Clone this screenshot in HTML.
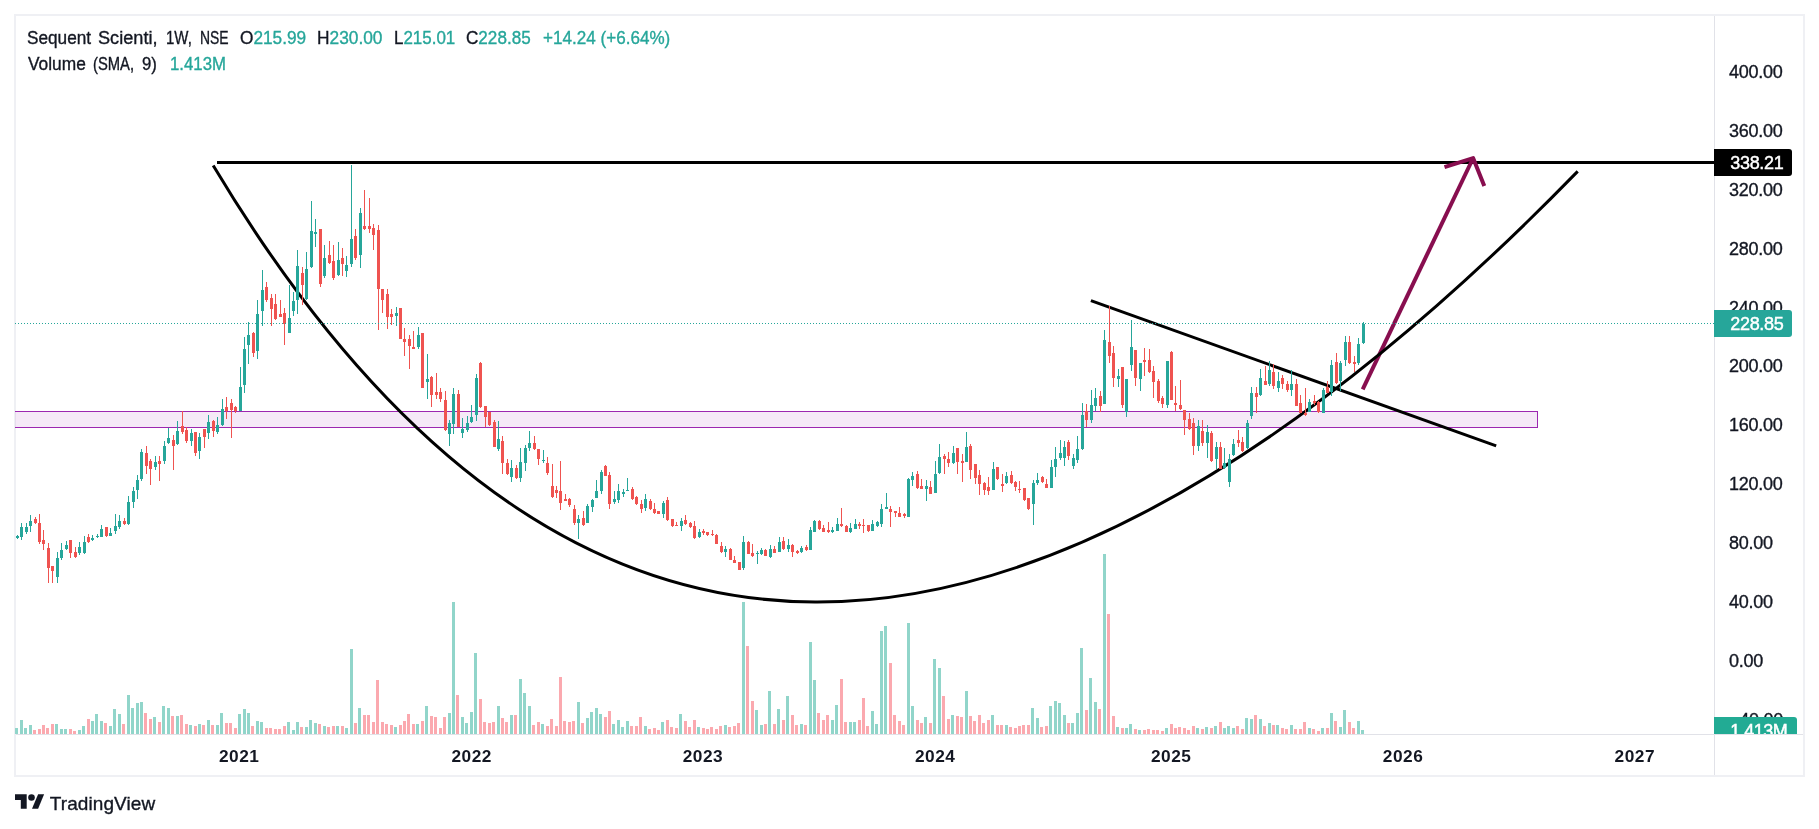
<!DOCTYPE html>
<html><head><meta charset="utf-8"><title>Sequent Scienti chart</title>
<style>
html,body{margin:0;padding:0;background:#fff}
body{width:1819px;height:829px;position:relative;overflow:hidden;will-change:transform;font-family:"Liberation Sans",Arial,sans-serif;color:#131722}
.t{position:absolute;white-space:nowrap;line-height:20px;height:20px;-webkit-text-stroke-width:0.35px}
.h{font-size:18px;transform-origin:0 0}
.g{color:#26a69a}
.ax{font-size:18px;letter-spacing:-0.24px}
.yr{font-size:17.3px;font-weight:bold;width:80px;text-align:center;top:746px;-webkit-text-stroke-width:0;letter-spacing:0.5px}
.lab{position:absolute;width:78px;height:27px;border-radius:0 3px 3px 0;color:#fff;font-size:18px;letter-spacing:-0.34px;line-height:29px;box-sizing:border-box;padding-left:16.3px;overflow:hidden;-webkit-text-stroke-width:0.45px;white-space:nowrap}
#axis{position:absolute;left:1714px;top:16px;width:89px;height:718px;overflow:hidden}
#axis .t{left:15px}
#axis .lab{left:0}
</style></head><body>

<svg width="1819" height="829" viewBox="0 0 1819 829" style="position:absolute;left:0;top:0">
<defs><clipPath id="pane"><rect x="15" y="16" width="1699" height="718"/></clipPath></defs>
<g shape-rendering="crispEdges">
<rect x="15" y="15" width="1789" height="761" fill="none" stroke="#eff0f4" stroke-width="2"/>
<rect x="1714" y="16" width="1" height="759" fill="#e1e2e8"/>
<rect x="16" y="734" width="1787" height="1" fill="#e1e2e8"/>
</g>
<g clip-path="url(#pane)">
<path shape-rendering="crispEdges" fill="#91d5ca" d="M15 728h3v6h-3zM20 720h3v14h-3zM24 728h3v6h-3zM29 725h3v9h-3zM55 724h3v10h-3zM60 729h3v5h-3zM64 729h3v5h-3zM78 730h3v4h-3zM82 726h3v8h-3zM91 721h3v13h-3zM95 714h3v20h-3zM100 721h3v13h-3zM109 726h3v8h-3zM113 709h3v25h-3zM118 714h3v20h-3zM127 695h3v39h-3zM131 708h3v26h-3zM136 703h3v31h-3zM140 702h3v32h-3zM153 717h3v17h-3zM162 706h3v28h-3zM167 708h3v26h-3zM176 716h3v18h-3zM189 725h3v9h-3zM198 724h3v10h-3zM207 720h3v14h-3zM216 725h3v9h-3zM220 713h3v21h-3zM238 714h3v20h-3zM243 709h3v25h-3zM247 713h3v21h-3zM256 721h3v13h-3zM260 722h3v12h-3zM287 722h3v12h-3zM292 730h3v4h-3zM296 722h3v12h-3zM305 727h3v7h-3zM309 720h3v14h-3zM314 723h3v11h-3zM323 726h3v8h-3zM336 726h3v8h-3zM345 728h3v6h-3zM350 649h3v85h-3zM358 708h3v26h-3zM394 727h3v7h-3zM416 724h3v10h-3zM425 706h3v28h-3zM448 713h3v21h-3zM452 602h3v132h-3zM461 717h3v17h-3zM465 723h3v11h-3zM470 712h3v22h-3zM474 653h3v81h-3zM497 706h3v28h-3zM510 715h3v19h-3zM519 679h3v55h-3zM523 693h3v41h-3zM528 706h3v28h-3zM541 724h3v10h-3zM577 702h3v32h-3zM586 718h3v16h-3zM590 712h3v22h-3zM595 708h3v26h-3zM599 714h3v20h-3zM612 724h3v10h-3zM617 720h3v14h-3zM621 727h3v7h-3zM626 721h3v13h-3zM644 726h3v8h-3zM661 722h3v12h-3zM679 714h3v20h-3zM697 727h3v7h-3zM724 725h3v9h-3zM742 602h3v132h-3zM755 710h3v24h-3zM760 725h3v9h-3zM768 691h3v43h-3zM777 709h3v25h-3zM786 696h3v38h-3zM800 724h3v10h-3zM809 642h3v92h-3zM813 680h3v54h-3zM831 720h3v14h-3zM835 705h3v29h-3zM849 722h3v12h-3zM853 722h3v12h-3zM871 711h3v23h-3zM875 724h3v10h-3zM880 631h3v103h-3zM884 626h3v108h-3zM907 623h3v111h-3zM911 706h3v28h-3zM924 717h3v17h-3zM933 659h3v75h-3zM938 668h3v66h-3zM951 715h3v19h-3zM965 691h3v43h-3zM991 715h3v19h-3zM1005 725h3v9h-3zM1031 708h3v26h-3zM1036 718h3v16h-3zM1049 706h3v28h-3zM1054 701h3v33h-3zM1058 703h3v31h-3zM1063 715h3v19h-3zM1071 723h3v11h-3zM1076 713h3v21h-3zM1080 648h3v86h-3zM1089 678h3v56h-3zM1094 702h3v32h-3zM1103 554h3v180h-3zM1116 727h3v7h-3zM1125 728h3v6h-3zM1129 724h3v10h-3zM1138 730h3v4h-3zM1165 728h3v6h-3zM1196 728h3v6h-3zM1205 727h3v7h-3zM1214 726h3v8h-3zM1223 728h3v6h-3zM1227 726h3v8h-3zM1232 728h3v6h-3zM1245 718h3v16h-3zM1250 719h3v15h-3zM1259 719h3v15h-3zM1268 723h3v11h-3zM1276 725h3v9h-3zM1290 725h3v9h-3zM1308 728h3v6h-3zM1321 728h3v6h-3zM1330 713h3v21h-3zM1339 727h3v7h-3zM1343 710h3v24h-3zM1357 721h3v13h-3zM1361 730h3v4h-3z"/>
<path shape-rendering="crispEdges" fill="#fba9af" d="M33 730h3v4h-3zM38 729h3v5h-3zM42 725h3v9h-3zM46 728h3v6h-3zM51 724h3v10h-3zM69 729h3v5h-3zM73 731h3v3h-3zM87 719h3v15h-3zM104 723h3v11h-3zM122 724h3v10h-3zM144 713h3v21h-3zM149 719h3v15h-3zM158 722h3v12h-3zM171 716h3v18h-3zM180 715h3v19h-3zM185 724h3v10h-3zM194 726h3v8h-3zM202 725h3v9h-3zM211 725h3v9h-3zM225 723h3v11h-3zM229 723h3v11h-3zM234 728h3v6h-3zM251 726h3v8h-3zM265 728h3v6h-3zM269 728h3v6h-3zM274 729h3v5h-3zM278 729h3v5h-3zM283 726h3v8h-3zM300 727h3v7h-3zM318 724h3v10h-3zM327 727h3v7h-3zM332 726h3v8h-3zM341 726h3v8h-3zM354 723h3v11h-3zM363 715h3v19h-3zM367 715h3v19h-3zM372 722h3v12h-3zM376 680h3v54h-3zM381 722h3v12h-3zM385 724h3v10h-3zM390 725h3v9h-3zM399 725h3v9h-3zM403 721h3v13h-3zM407 714h3v20h-3zM412 724h3v10h-3zM421 721h3v13h-3zM430 716h3v18h-3zM434 717h3v17h-3zM439 728h3v6h-3zM443 717h3v17h-3zM456 695h3v39h-3zM479 699h3v35h-3zM483 722h3v12h-3zM488 723h3v11h-3zM492 722h3v12h-3zM501 718h3v16h-3zM505 722h3v12h-3zM514 715h3v19h-3zM532 725h3v9h-3zM537 722h3v12h-3zM546 726h3v8h-3zM550 719h3v15h-3zM555 726h3v8h-3zM559 677h3v57h-3zM563 721h3v13h-3zM568 722h3v12h-3zM572 721h3v13h-3zM581 723h3v11h-3zM604 717h3v17h-3zM608 711h3v23h-3zM630 726h3v8h-3zM635 726h3v8h-3zM639 717h3v17h-3zM648 729h3v5h-3zM653 728h3v6h-3zM657 730h3v4h-3zM666 720h3v14h-3zM670 727h3v7h-3zM675 728h3v6h-3zM684 721h3v13h-3zM688 727h3v7h-3zM693 720h3v14h-3zM702 728h3v6h-3zM706 729h3v5h-3zM710 727h3v7h-3zM715 729h3v5h-3zM719 726h3v8h-3zM728 727h3v7h-3zM733 726h3v8h-3zM737 723h3v11h-3zM746 646h3v88h-3zM751 701h3v33h-3zM764 724h3v10h-3zM773 724h3v10h-3zM782 720h3v14h-3zM791 715h3v19h-3zM795 725h3v9h-3zM804 725h3v9h-3zM817 713h3v21h-3zM822 720h3v14h-3zM826 715h3v19h-3zM840 679h3v55h-3zM844 722h3v12h-3zM858 720h3v14h-3zM862 698h3v36h-3zM866 726h3v8h-3zM889 663h3v71h-3zM893 715h3v19h-3zM898 721h3v13h-3zM902 725h3v9h-3zM916 720h3v14h-3zM920 723h3v11h-3zM929 723h3v11h-3zM942 696h3v38h-3zM947 719h3v15h-3zM956 716h3v18h-3zM960 717h3v17h-3zM969 716h3v18h-3zM973 721h3v13h-3zM978 715h3v19h-3zM982 723h3v11h-3zM987 720h3v14h-3zM996 725h3v9h-3zM1000 725h3v9h-3zM1009 727h3v7h-3zM1014 728h3v6h-3zM1018 726h3v8h-3zM1022 725h3v9h-3zM1027 725h3v9h-3zM1040 727h3v7h-3zM1045 726h3v8h-3zM1067 723h3v11h-3zM1085 710h3v24h-3zM1098 709h3v25h-3zM1107 614h3v120h-3zM1112 716h3v18h-3zM1121 728h3v6h-3zM1134 729h3v5h-3zM1143 730h3v4h-3zM1147 729h3v5h-3zM1152 730h3v4h-3zM1156 730h3v4h-3zM1161 731h3v3h-3zM1170 724h3v10h-3zM1174 728h3v6h-3zM1178 727h3v7h-3zM1183 728h3v6h-3zM1187 730h3v4h-3zM1192 726h3v8h-3zM1201 729h3v5h-3zM1210 728h3v6h-3zM1219 722h3v12h-3zM1236 726h3v8h-3zM1241 729h3v5h-3zM1254 715h3v19h-3zM1263 726h3v8h-3zM1272 725h3v9h-3zM1281 728h3v6h-3zM1285 729h3v5h-3zM1294 729h3v5h-3zM1299 729h3v5h-3zM1303 722h3v12h-3zM1312 729h3v5h-3zM1317 731h3v3h-3zM1326 728h3v6h-3zM1334 721h3v13h-3zM1348 722h3v12h-3zM1352 728h3v6h-3z"/>
<rect x="0.5" y="411.5" width="1537" height="16" fill="rgba(156,39,176,0.1)" stroke="#9c27b0" stroke-width="1"/>
<line x1="217" y1="162.5" x2="1714" y2="162.5" stroke="#000" stroke-width="3"/>
<g fill="none" stroke="#880e4f" stroke-width="4" stroke-linejoin="round"><line x1="1362.7" y1="389.3" x2="1472.7" y2="159.0"/><polyline points="1444.5,167.2 1473.1,158.1 1484.3,186"/></g>
<line x1="1090.9" y1="300.6" x2="1496.2" y2="445.9" stroke="#000" stroke-width="3"/>
<path d="M213.2 165.5Q734.6 1035.6 1577.7 171.4" fill="none" stroke="#000" stroke-width="3"/>
<path shape-rendering="crispEdges" fill="#26a69a" d="M17 535h1v4h-1zM16 536h3v2h-3zM21 523h1v17h-1zM20 527h3v10h-3zM26 523h1v11h-1zM25 527h3v5h-3zM30 515h1v17h-1zM29 521h3v5h-3zM57 552h1v31h-1zM56 558h3v19h-3zM61 543h1v17h-1zM60 550h3v8h-3zM66 541h1v9h-1zM65 545h3v4h-3zM79 542h1v13h-1zM78 547h3v6h-3zM84 536h1v18h-1zM83 542h3v11h-3zM92 535h1v6h-1zM91 538h3v2h-3zM97 534h1v4h-1zM96 536h3v1h-3zM101 525h1v12h-1zM100 529h3v8h-3zM110 528h1v8h-1zM109 533h3v3h-3zM115 514h1v20h-1zM114 526h3v5h-3zM119 515h1v14h-1zM118 521h3v6h-3zM128 496h1v29h-1zM127 502h3v22h-3zM133 487h1v21h-1zM132 491h3v11h-3zM137 475h1v24h-1zM136 480h3v10h-3zM141 449h1v32h-1zM140 452h3v27h-3zM155 456h1v14h-1zM154 462h3v5h-3zM164 441h1v23h-1zM163 446h3v15h-3zM168 428h1v16h-1zM167 438h3v5h-3zM177 421h1v24h-1zM176 431h3v13h-3zM191 429h1v17h-1zM190 433h3v8h-3zM199 433h1v26h-1zM198 437h3v14h-3zM208 415h1v24h-1zM207 422h3v11h-3zM217 417h1v17h-1zM216 425h3v7h-3zM222 399h1v27h-1zM221 409h3v16h-3zM240 367h1v44h-1zM239 387h3v24h-3zM244 337h1v56h-1zM243 349h3v36h-3zM248 322h1v42h-1zM247 335h3v10h-3zM257 300h1v59h-1zM256 314h3v37h-3zM262 270h1v56h-1zM261 290h3v21h-3zM289 285h1v48h-1zM288 318h3v15h-3zM293 292h1v24h-1zM292 301h3v10h-3zM297 250h1v64h-1zM296 266h3v34h-3zM306 252h1v48h-1zM305 269h3v30h-3zM311 201h1v67h-1zM310 231h3v36h-3zM315 219h1v28h-1zM314 232h3v2h-3zM324 245h1v33h-1zM323 258h3v18h-3zM338 242h1v34h-1zM337 260h3v15h-3zM346 256h1v21h-1zM345 265h3v6h-3zM351 165h1v102h-1zM350 239h3v25h-3zM360 208h1v60h-1zM359 213h3v42h-3zM396 307h1v19h-1zM395 313h3v3h-3zM418 327h1v22h-1zM417 335h3v12h-3zM427 354h1v45h-1zM426 379h3v3h-3zM449 420h1v26h-1zM448 423h3v11h-3zM453 388h1v46h-1zM452 394h3v30h-3zM462 418h1v20h-1zM461 429h3v4h-3zM467 416h1v16h-1zM466 423h3v7h-3zM471 405h1v18h-1zM470 417h3v5h-3zM476 374h1v47h-1zM475 378h3v37h-3zM498 421h1v30h-1zM497 439h3v10h-3zM511 460h1v22h-1zM510 468h3v9h-3zM520 448h1v34h-1zM519 462h3v16h-3zM525 445h1v26h-1zM524 448h3v15h-3zM529 431h1v20h-1zM528 443h3v5h-3zM543 450h1v13h-1zM542 460h3v1h-3zM578 515h1v24h-1zM577 519h3v4h-3zM587 504h1v19h-1zM586 506h3v17h-3zM592 499h1v13h-1zM591 500h3v7h-3zM596 480h1v18h-1zM595 491h3v7h-3zM601 470h1v24h-1zM600 472h3v19h-3zM614 491h1v13h-1zM613 499h3v3h-3zM618 484h1v19h-1zM617 491h3v9h-3zM623 489h1v8h-1zM622 492h3v2h-3zM627 478h1v13h-1zM626 490h3v1h-3zM645 494h1v17h-1zM644 499h3v9h-3zM663 501h1v17h-1zM662 503h3v11h-3zM681 518h1v13h-1zM680 521h3v5h-3zM699 529h1v9h-1zM698 532h3v5h-3zM725 546h1v11h-1zM724 549h3v3h-3zM743 536h1v34h-1zM742 542h3v26h-3zM757 551h1v13h-1zM756 553h3v1h-3zM761 548h1v7h-1zM760 550h3v4h-3zM770 545h1v13h-1zM769 549h3v8h-3zM779 537h1v15h-1zM778 542h3v10h-3zM788 539h1v13h-1zM787 545h3v4h-3zM801 546h1v7h-1zM800 548h3v4h-3zM810 527h1v23h-1zM809 530h3v20h-3zM814 520h1v12h-1zM813 521h3v11h-3zM832 527h1v6h-1zM831 530h3v2h-3zM837 518h1v13h-1zM836 524h3v7h-3zM850 523h1v10h-1zM849 528h3v4h-3zM855 519h1v10h-1zM854 524h3v5h-3zM872 520h1v11h-1zM871 524h3v7h-3zM877 521h1v6h-1zM876 522h3v4h-3zM881 504h1v23h-1zM880 509h3v15h-3zM886 493h1v16h-1zM885 507h3v2h-3zM908 478h1v39h-1zM907 479h3v38h-3zM912 472h1v14h-1zM911 476h3v4h-3zM926 480h1v21h-1zM925 486h3v3h-3zM935 461h1v32h-1zM934 474h3v19h-3zM939 444h1v30h-1zM938 457h3v16h-3zM953 446h1v18h-1zM952 453h3v10h-3zM966 432h1v30h-1zM965 447h3v15h-3zM993 462h1v28h-1zM992 469h3v21h-3zM1006 472h1v12h-1zM1005 476h3v7h-3zM1033 480h1v45h-1zM1032 483h3v21h-3zM1037 473h1v12h-1zM1036 480h3v3h-3zM1051 460h1v28h-1zM1050 467h3v21h-3zM1055 447h1v30h-1zM1054 459h3v8h-3zM1060 440h1v20h-1zM1059 453h3v5h-3zM1064 441h1v25h-1zM1063 447h3v11h-3zM1073 454h1v15h-1zM1072 458h3v8h-3zM1077 436h1v27h-1zM1076 449h3v11h-3zM1082 403h1v47h-1zM1081 415h3v34h-3zM1091 390h1v33h-1zM1090 405h3v15h-3zM1095 388h1v23h-1zM1094 398h3v8h-3zM1104 330h1v74h-1zM1103 340h3v64h-3zM1118 369h1v18h-1zM1117 376h3v3h-3zM1126 379h1v38h-1zM1125 379h3v33h-3zM1131 320h1v51h-1zM1130 347h3v18h-3zM1140 363h1v28h-1zM1139 363h3v16h-3zM1167 361h1v47h-1zM1166 361h3v44h-3zM1198 420h1v31h-1zM1197 426h3v20h-3zM1207 425h1v33h-1zM1206 432h3v11h-3zM1216 442h1v27h-1zM1215 447h3v12h-3zM1224 448h1v21h-1zM1223 463h3v5h-3zM1229 454h1v33h-1zM1228 459h3v23h-3zM1233 439h1v17h-1zM1232 444h3v11h-3zM1247 420h1v29h-1zM1246 423h3v25h-3zM1251 387h1v32h-1zM1250 393h3v23h-3zM1260 369h1v27h-1zM1259 378h3v17h-3zM1269 361h1v25h-1zM1268 370h3v14h-3zM1278 372h1v20h-1zM1277 381h3v7h-3zM1291 370h1v26h-1zM1290 384h3v6h-3zM1309 399h1v13h-1zM1308 402h3v10h-3zM1323 388h1v25h-1zM1322 390h3v23h-3zM1331 360h1v36h-1zM1330 365h3v27h-3zM1340 361h1v30h-1zM1339 363h3v18h-3zM1345 336h1v30h-1zM1344 342h3v18h-3zM1358 338h1v27h-1zM1357 344h3v19h-3zM1363 322h1v22h-1zM1362 324h3v19h-3z"/>
<path shape-rendering="crispEdges" fill="#ef5350" d="M35 517h1v7h-1zM34 519h3v4h-3zM39 514h1v30h-1zM38 523h3v19h-3zM43 530h1v20h-1zM42 540h3v4h-3zM48 543h1v40h-1zM47 548h3v20h-3zM52 566h1v17h-1zM51 566h3v5h-3zM70 540h1v18h-1zM69 540h3v13h-3zM75 547h1v11h-1zM74 552h3v5h-3zM88 534h1v9h-1zM87 537h3v5h-3zM106 527h1v10h-1zM105 527h3v9h-3zM124 518h1v7h-1zM123 521h3v3h-3zM146 446h1v28h-1zM145 453h3v13h-3zM150 459h1v26h-1zM149 461h3v8h-3zM159 456h1v25h-1zM158 461h3v3h-3zM173 435h1v35h-1zM172 440h3v6h-3zM182 411h1v23h-1zM181 426h3v6h-3zM186 427h1v16h-1zM185 430h3v11h-3zM195 432h1v24h-1zM194 432h3v21h-3zM204 429h1v19h-1zM203 429h3v8h-3zM213 420h1v17h-1zM212 421h3v10h-3zM226 397h1v22h-1zM225 407h3v4h-3zM231 399h1v39h-1zM230 403h3v7h-3zM235 406h1v7h-1zM234 407h3v4h-3zM253 332h1v25h-1zM252 333h3v20h-3zM266 282h1v20h-1zM265 287h3v13h-3zM271 294h1v32h-1zM270 298h3v11h-3zM275 294h1v26h-1zM274 304h3v15h-3zM280 300h1v17h-1zM279 314h3v3h-3zM284 308h1v37h-1zM283 313h3v11h-3zM302 267h1v38h-1zM301 273h3v12h-3zM320 229h1v58h-1zM319 229h3v55h-3zM329 241h1v23h-1zM328 255h3v8h-3zM333 245h1v35h-1zM332 261h3v17h-3zM342 248h1v28h-1zM341 258h3v6h-3zM355 229h1v31h-1zM354 236h3v22h-3zM364 190h1v40h-1zM363 226h3v3h-3zM369 198h1v35h-1zM368 226h3v3h-3zM373 224h1v26h-1zM372 228h3v7h-3zM378 225h1v105h-1zM377 230h3v59h-3zM382 289h1v24h-1zM381 289h3v11h-3zM387 289h1v40h-1zM386 294h3v23h-3zM391 309h1v16h-1zM390 314h3v3h-3zM400 308h1v31h-1zM399 308h3v31h-3zM404 328h1v28h-1zM403 339h3v3h-3zM409 335h1v34h-1zM408 339h3v7h-3zM413 331h1v18h-1zM412 347h3v2h-3zM422 333h1v55h-1zM421 333h3v55h-3zM431 376h1v31h-1zM430 377h3v18h-3zM436 373h1v26h-1zM435 392h3v3h-3zM440 388h1v14h-1zM439 392h3v7h-3zM445 391h1v40h-1zM444 400h3v30h-3zM458 390h1v37h-1zM457 394h3v33h-3zM480 362h1v46h-1zM479 363h3v44h-3zM485 406h1v21h-1zM484 406h3v11h-3zM489 412h1v14h-1zM488 412h3v13h-3zM494 420h1v27h-1zM493 422h3v25h-3zM502 436h1v38h-1zM501 441h3v22h-3zM507 459h1v16h-1zM506 463h3v11h-3zM516 465h1v14h-1zM515 468h3v10h-3zM534 436h1v14h-1zM533 443h3v6h-3zM538 449h1v16h-1zM537 449h3v10h-3zM547 457h1v18h-1zM546 463h3v10h-3zM552 464h1v34h-1zM551 486h3v11h-3zM556 486h1v12h-1zM555 490h3v3h-3zM560 461h1v49h-1zM559 491h3v12h-3zM565 494h1v7h-1zM564 499h3v2h-3zM569 498h1v9h-1zM568 499h3v6h-3zM574 505h1v20h-1zM573 509h3v14h-3zM583 511h1v15h-1zM582 518h3v7h-3zM605 465h1v11h-1zM604 466h3v10h-3zM609 472h1v37h-1zM608 475h3v29h-3zM632 487h1v13h-1zM631 489h3v10h-3zM636 496h1v9h-1zM635 497h3v7h-3zM641 500h1v13h-1zM640 504h3v5h-3zM650 499h1v11h-1zM649 501h3v8h-3zM654 503h1v11h-1zM653 509h3v4h-3zM658 511h1v3h-1zM657 511h3v3h-3zM667 497h1v24h-1zM666 500h3v20h-3zM672 519h1v8h-1zM671 519h3v7h-3zM676 522h1v4h-1zM675 525h3v1h-3zM685 515h1v10h-1zM684 520h3v4h-3zM690 522h1v6h-1zM689 523h3v4h-3zM694 521h1v18h-1zM693 526h3v12h-3zM703 529h1v6h-1zM702 531h3v2h-3zM707 532h1v4h-1zM706 532h3v3h-3zM712 530h1v6h-1zM711 534h3v1h-3zM716 534h1v10h-1zM715 535h3v9h-3zM721 542h1v11h-1zM720 546h3v6h-3zM730 548h1v12h-1zM729 549h3v11h-3zM734 556h1v7h-1zM733 560h3v3h-3zM739 562h1v8h-1zM738 562h3v8h-3zM748 541h1v13h-1zM747 542h3v12h-3zM752 544h1v13h-1zM751 553h3v3h-3zM765 549h1v7h-1zM764 550h3v6h-3zM774 546h1v7h-1zM773 549h3v4h-3zM783 537h1v13h-1zM782 541h3v8h-3zM792 544h1v13h-1zM791 545h3v7h-3zM797 550h1v4h-1zM796 551h3v2h-3zM806 545h1v6h-1zM805 547h3v3h-3zM819 520h1v10h-1zM818 521h3v8h-3zM823 525h1v7h-1zM822 528h3v4h-3zM828 522h1v11h-1zM827 530h3v2h-3zM841 508h1v19h-1zM840 524h3v2h-3zM846 525h1v7h-1zM845 526h3v6h-3zM859 522h1v7h-1zM858 524h3v2h-3zM863 519h1v14h-1zM862 525h3v1h-3zM868 525h1v7h-1zM867 525h3v6h-3zM890 506h1v21h-1zM889 509h3v3h-3zM895 511h1v6h-1zM894 511h3v2h-3zM899 507h1v10h-1zM898 513h3v4h-3zM904 513h1v5h-1zM903 514h3v2h-3zM917 471h1v18h-1zM916 474h3v14h-3zM921 479h1v10h-1zM920 486h3v3h-3zM930 481h1v13h-1zM929 487h3v7h-3zM944 454h1v20h-1zM943 456h3v3h-3zM948 452h1v15h-1zM947 459h3v4h-3zM957 448h1v26h-1zM956 448h3v14h-3zM962 454h1v28h-1zM961 461h3v2h-3zM970 444h1v35h-1zM969 446h3v24h-3zM975 464h1v20h-1zM974 464h3v14h-3zM979 470h1v25h-1zM978 475h3v9h-3zM984 482h1v13h-1zM983 483h3v7h-3zM988 477h1v18h-1zM987 487h3v4h-3zM997 467h1v13h-1zM996 467h3v12h-3zM1002 474h1v18h-1zM1001 484h3v2h-3zM1011 471h1v13h-1zM1010 475h3v8h-3zM1015 481h1v10h-1zM1014 482h3v5h-3zM1019 481h1v12h-1zM1018 489h3v1h-3zM1024 488h1v13h-1zM1023 488h3v12h-3zM1028 498h1v12h-1zM1027 498h3v11h-3zM1042 476h1v7h-1zM1041 477h3v5h-3zM1046 479h1v9h-1zM1045 484h3v4h-3zM1068 440h1v20h-1zM1067 442h3v14h-3zM1086 404h1v23h-1zM1085 411h3v9h-3zM1100 391h1v21h-1zM1099 396h3v10h-3zM1109 306h1v57h-1zM1108 342h3v14h-3zM1113 346h1v41h-1zM1112 353h3v25h-3zM1122 367h1v41h-1zM1121 367h3v38h-3zM1135 350h1v36h-1zM1134 350h3v28h-3zM1144 348h1v28h-1zM1143 360h3v2h-3zM1149 349h1v24h-1zM1148 360h3v12h-3zM1153 366h1v32h-1zM1152 371h3v11h-3zM1158 379h1v24h-1zM1157 381h3v20h-3zM1162 396h1v12h-1zM1161 398h3v6h-3zM1171 351h1v49h-1zM1170 352h3v48h-3zM1175 386h1v25h-1zM1174 403h3v2h-3zM1180 380h1v30h-1zM1179 405h3v4h-3zM1184 410h1v25h-1zM1183 410h3v10h-3zM1189 413h1v17h-1zM1188 419h3v10h-3zM1193 418h1v37h-1zM1192 423h3v23h-3zM1202 420h1v26h-1zM1201 431h3v12h-3zM1211 431h1v31h-1zM1210 433h3v28h-3zM1220 442h1v27h-1zM1219 447h3v22h-3zM1238 430h1v17h-1zM1237 440h3v3h-3zM1242 437h1v15h-1zM1241 442h3v9h-3zM1256 387h1v26h-1zM1255 393h3v4h-3zM1265 366h1v19h-1zM1264 381h3v4h-3zM1273 364h1v25h-1zM1272 372h3v14h-3zM1282 375h1v14h-1zM1281 378h3v6h-3zM1287 381h1v11h-1zM1286 384h3v6h-3zM1296 379h1v27h-1zM1295 384h3v22h-3zM1300 395h1v18h-1zM1299 403h3v10h-3zM1305 388h1v28h-1zM1304 413h3v2h-3zM1314 395h1v10h-1zM1313 401h3v2h-3zM1318 401h1v12h-1zM1317 402h3v10h-3zM1327 381h1v12h-1zM1326 387h3v6h-3zM1336 353h1v31h-1zM1335 362h3v21h-3zM1349 336h1v28h-1zM1348 342h3v21h-3zM1354 356h1v16h-1zM1353 362h3v2h-3z"/>
<line x1="15" y1="323.5" x2="1714" y2="323.5" stroke="#26a69a" stroke-width="1" stroke-dasharray="1 2" shape-rendering="crispEdges"/>
</g>
<g fill="#131722"><path d="M15 794.2h11.7v14.5h-5.9v-8.8h-5.8z"/><circle cx="31.5" cy="797.5" r="3.3"/><path d="M38.1 794.2h6l-6 14.5h-6.1z"/></g>
</svg>
<div class="t h" id="s1a" style="left:27.3px;top:28.00px;transform:scaleX(0.9558)">Sequent</div>
<div class="t h" id="s1b" style="left:97.8px;top:28.00px;transform:scaleX(1.0079)">Scienti,</div>
<div class="t h" id="s1c" style="left:165.9px;top:28.00px;transform:scaleX(0.8318)">1W,</div>
<div class="t h" id="s1d" style="left:200.0px;top:28.00px;transform:scaleX(0.7726)">NSE</div>
<div class="t h" id="s2" style="left:239.6px;top:28.00px;transform:scaleX(0.9583)">O<span class="g">215.99</span></div>
<div class="t h" id="s3" style="left:316.8px;top:28.00px;transform:scaleX(0.9624)">H<span class="g">230.00</span></div>
<div class="t h" id="s4" style="left:393.5px;top:28.00px;transform:scaleX(0.9419)">L<span class="g">215.01</span></div>
<div class="t h" id="s5" style="left:466.3px;top:28.00px;transform:scaleX(0.9506)">C<span class="g">228.85</span></div>
<div class="t h g" id="s6" style="left:542.5px;top:28.00px;transform:scaleX(0.9492)">+14.24 (+6.64%)</div>
<div class="t h" id="s7a" style="left:27.5px;top:54.00px;transform:scaleX(0.9626)">Volume</div>
<div class="t h" id="s7b" style="left:93.2px;top:54.00px;transform:scaleX(0.8217)">(SMA,</div>
<div class="t h" id="s7c" style="left:142.0px;top:54.00px;transform:scaleX(0.9303)">9)</div>
<div class="t h g" id="s8" style="left:170.0px;top:54.00px;transform:scaleX(0.9326)">1.413M</div>
<div class="t yr" style="left:199.2px">2021</div>
<div class="t yr" style="left:431.7px">2022</div>
<div class="t yr" style="left:662.9px">2023</div>
<div class="t yr" style="left:895.2px">2024</div>
<div class="t yr" style="left:1131.2px">2025</div>
<div class="t yr" style="left:1363.1px">2026</div>
<div class="t yr" style="left:1594.8px">2027</div>
<div id="axis">
<div class="t ax" style="top:46px">400.00</div>
<div class="t ax" style="top:105px">360.00</div>
<div class="t ax" style="top:164px">320.00</div>
<div class="t ax" style="top:223px">280.00</div>
<div class="t ax" style="top:282px">240.00</div>
<div class="t ax" style="top:340px">200.00</div>
<div class="t ax" style="top:399px">160.00</div>
<div class="t ax" style="top:458px">120.00</div>
<div class="t ax" style="top:517px">80.00</div>
<div class="t ax" style="top:576px">40.00</div>
<div class="t ax" style="top:635px">0.00</div>
<div class="t ax" style="top:694px">−40.00</div>
<div class="lab" style="top:133px;background:#000">338.21</div>
<div class="lab" style="top:294px;background:#26a69a">228.85</div>
<div class="lab" style="top:701px;width:83px;background:#22ab94;letter-spacing:-0.5px">1.413M</div>
</div>
<div class="t" style="left:49.8px;top:793.3px;font-size:19px;line-height:22px;height:22px;letter-spacing:0.08px">TradingView</div>
</body></html>
